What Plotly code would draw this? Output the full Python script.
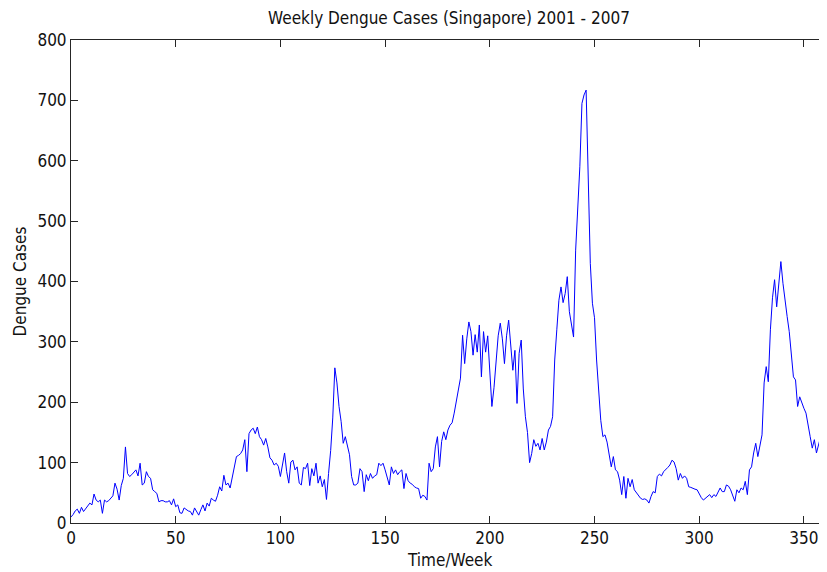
import plotly.graph_objects as go

# Weekly dengue cases (week index 0..361)
cases = [
    10, 14, 20, 23, 16, 26, 19, 24, 27, 33,
    30, 48, 38, 35, 38, 16, 38, 35, 37, 41,
    45, 66, 56, 38, 62, 74, 126, 82, 77, 80,
    84, 88, 78, 99, 63, 66, 85, 77, 74, 55,
    52, 49, 35, 37, 37, 35, 35, 37, 30, 40,
    27, 30, 17, 16, 25, 22, 20, 19, 13, 25,
    20, 13, 22, 30, 20, 33, 28, 41, 38, 36,
    46, 60, 53, 79, 63, 66, 58, 77, 93, 110,
    112, 115, 121, 138, 85, 148, 154, 157, 148, 159,
    143, 138, 129, 140, 126, 108, 104, 96, 99, 94,
    77, 95, 116, 85, 66, 101, 104, 88, 93, 66,
    63, 92, 90, 99, 62, 90, 78, 99, 66, 78,
    60, 72, 39, 82, 120, 174, 257, 232, 193, 168,
    132, 143, 130, 113, 77, 63, 63, 66, 90, 85,
    52, 80, 70, 82, 74, 78, 80, 99, 95, 99,
    88, 75, 63, 93, 82, 88, 80, 85, 88, 57,
    82, 70, 66, 64, 60, 58, 57, 41, 46, 44,
    38, 99, 85, 90, 126, 143, 93, 135, 151, 138,
    154, 162, 166, 182, 204, 221, 240, 311, 264, 305,
    333, 317, 278, 312, 283, 328, 242, 317, 283, 310,
    259, 193, 224, 275, 310, 331, 305, 264, 310, 336,
    292, 253, 286, 198, 281, 303, 222, 176, 150, 100,
    115, 138, 127, 132, 121, 140, 121, 134, 154, 160,
    176, 270, 320, 369, 391, 365, 380, 408, 350, 325,
    308, 452, 515, 590, 695, 709, 717, 560, 430, 364,
    340, 270, 209, 170, 143, 146, 134, 115, 93, 110,
    88, 85, 71, 47, 77, 41, 74, 60, 72, 55,
    50, 44, 41, 39, 40, 38, 33, 44, 52, 50,
    77, 81, 78, 85, 88, 92, 96, 104, 101, 90,
    71, 82, 74, 78, 74, 60, 59, 57, 56, 55,
    47, 42, 38, 41, 44, 47, 42, 47, 44, 50,
    58, 52, 52, 63, 61, 55, 44, 36, 55, 50,
    58, 55, 69, 47, 88, 93, 116, 132, 110, 127,
    146, 232, 259, 234, 320, 373, 403, 358, 391, 433,
    397, 364, 342, 317, 276, 242, 237, 193, 209, 198,
    190, 182, 165, 143, 124, 138, 116, 132, 143, 146,
    140, 132,
]
weeks = list(range(len(cases)))

x_ticks = [0, 50, 100, 150, 200, 250, 300, 350]
y_ticks = [0, 100, 200, 300, 400, 500, 600, 700, 800]

title_text = "Weekly Dengue Cases (Singapore) 2001 - 2007"
x_label = "Time/Week"
y_label = "Dengue Cases"

FONT = "DejaVu Sans Condensed, Liberation Sans Narrow, Arial Narrow, sans-serif"
# page body has an 8px margin, so the figure is 8px smaller than the window
W, H = 819, 564
L, R, T, B = 63, 0, 32, 49
PLOT_W = W - L - R
PLOT_H = H - T - B

fig = go.Figure()
fig.add_trace(go.Scatter(
    x=weeks, y=cases, mode="lines",
    line=dict(color="#0000ff", width=1),
    hoverinfo="x+y", showlegend=False,
))

axis_color = "#262626"
txt_color = "#111111"
fig.update_layout(
    width=W, height=H,
    margin=dict(l=L, r=R, t=T, b=B, pad=0),
    paper_bgcolor="white", plot_bgcolor="white",
    font=dict(family=FONT, size=17, color=txt_color),
    title=dict(text=title_text, x=0.5, xref="paper", xanchor="center",
               y=1 - 10 / H, yref="container", yanchor="middle",
               font=dict(family=FONT, size=17, color=txt_color)),
    xaxis=dict(range=[0, PLOT_W / 2.094], tickvals=x_ticks,
               ticktext=[str(v) for v in x_ticks],
               showgrid=False, zeroline=False, showline=True,
               linecolor=axis_color, linewidth=1, mirror="ticks",
               ticks="inside", ticklen=7, tickcolor=axis_color, tickwidth=1),
    yaxis=dict(range=[0, 800], tickvals=y_ticks,
               ticktext=[str(v) for v in y_ticks],
               showgrid=False, zeroline=False, showline=True,
               linecolor=axis_color, linewidth=1, mirror=False,
               ticks="inside", ticklen=7, tickcolor=axis_color, tickwidth=1),
    annotations=[
        dict(text=x_label, xref="paper", yref="paper",
             x=0.5, y=-37 / PLOT_H, xanchor="center", yanchor="middle",
             showarrow=False, font=dict(family=FONT, size=17, color=txt_color)),
        dict(text=y_label, xref="paper", yref="paper",
             x=-52 / PLOT_W, y=0.5, xanchor="center", yanchor="middle",
             textangle=-90, showarrow=False,
             font=dict(family=FONT, size=17, color=txt_color)),
    ],
)

fig.write_html("out.html")
